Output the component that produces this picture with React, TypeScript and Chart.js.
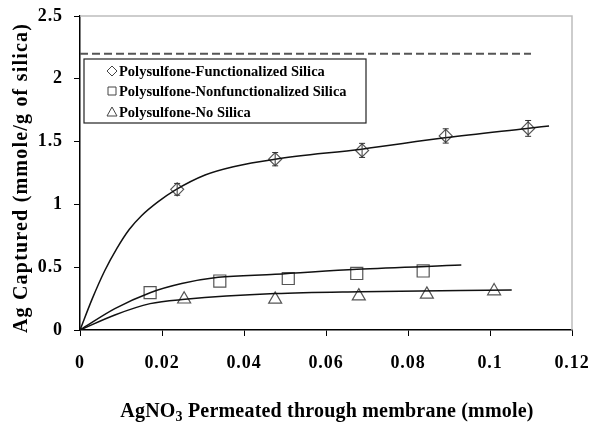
import { useEffect, useRef } from "react";
import { Chart, registerables } from "chart.js";
Chart.register(...registerables);

// ---- data ----
const xTickLabels = ["0", "0.02", "0.04", "0.06", "0.08", "0.1", "0.12"];
const yTickLabels = ["0", "0.5", "1", "1.5", "2", "2.5"];

const legendLabels = [
  "Polysulfone-Functionalized Silica",
  "Polysulfone-Nonfunctionalized Silica",
  "Polysulfone-No Silica",
];

// Functionalized silica (diamonds) with error bars
const funcX = [0.0237, 0.0476, 0.0688, 0.0892, 0.1093];
const funcY = [1.12, 1.36, 1.43, 1.545, 1.605];
const funcErr = [0.047, 0.053, 0.056, 0.057, 0.063];

// Nonfunctionalized silica (squares)
const nonfX = [0.0171, 0.0341, 0.0508, 0.0675, 0.0837];
const nonfY = [0.297, 0.39, 0.41, 0.45, 0.47];

// No silica (triangles)
const noSilX = [0.0254, 0.0476, 0.068, 0.0846, 0.101];
const noSilY = [0.245, 0.244, 0.27, 0.284, 0.31];

// fitted curves
const funcFitX = [0, 0.003, 0.006, 0.009, 0.012, 0.015, 0.019, 0.023, 0.0305, 0.0374, 0.0476, 0.0687, 0.089, 0.109, 0.1144];
const funcFitY = [0, 0.25, 0.47, 0.65, 0.8, 0.91, 1.02, 1.11, 1.234, 1.3, 1.36, 1.44, 1.53, 1.605, 1.625];

const nonfFitX = [0, 0.0085, 0.0171, 0.0248, 0.0337, 0.0476, 0.0675, 0.093];
const nonfFitY = [0, 0.17, 0.297, 0.37, 0.42, 0.443, 0.483, 0.517];

const noSilFitX = [0, 0.0085, 0.0171, 0.0256, 0.0476, 0.0683, 0.1053];
const noSilFitY = [0, 0.12, 0.21, 0.244, 0.29, 0.305, 0.318];

// theoretical capacity (dashed)
const capX = [0, 0.11];
const capY = [2.2, 2.2];

const FONT = "'Liberation Serif', 'Times New Roman', serif";

const pts = (xs: number[], ys: number[]) => xs.map((x, i) => ({ x, y: ys[i] }));

function drawMarker(ctx: CanvasRenderingContext2D, kind: string, x: number, y: number, r: number) {
  ctx.beginPath();
  if (kind === "diamond") {
    ctx.moveTo(x, y - r);
    ctx.lineTo(x + r, y);
    ctx.lineTo(x, y + r);
    ctx.lineTo(x - r, y);
    ctx.closePath();
  } else if (kind === "square") {
    ctx.rect(x - r * 0.8, y - r * 0.8, r * 1.6, r * 1.6);
  } else {
    ctx.moveTo(x, y - r);
    ctx.lineTo(x + r, y + r * 0.8);
    ctx.lineTo(x - r, y + r * 0.8);
    ctx.closePath();
  }
  ctx.fillStyle = "#fff";
  ctx.fill();
  ctx.stroke();
}

const spacingPlugin = {
  id: "spacing",
  beforeDraw(chart: any) {
    (chart.ctx as any).letterSpacing = "0.9px";
  },
};

const framePlugin = {
  id: "frame",
  beforeDatasetsDraw(chart: any) {
    const { ctx, chartArea: a } = chart;
    ctx.save();
    ctx.strokeStyle = "#bdbdbd";
    ctx.lineWidth = 1.5;
    ctx.beginPath();
    ctx.moveTo(a.left, a.top);
    ctx.lineTo(a.right, a.top);
    ctx.lineTo(a.right, a.bottom);
    ctx.stroke();
    ctx.restore();
  },
};

const errorBarPlugin = {
  id: "errorBars",
  afterDatasetsDraw(chart: any) {
    const { ctx } = chart;
    const xs = chart.scales.x;
    const ys = chart.scales.y;
    ctx.save();
    ctx.strokeStyle = "#333";
    ctx.lineWidth = 1;
    funcX.forEach((xv, i) => {
      const px = xs.getPixelForValue(xv);
      const top = ys.getPixelForValue(funcY[i] + funcErr[i]);
      const bot = ys.getPixelForValue(funcY[i] - funcErr[i]);
      ctx.beginPath();
      ctx.moveTo(px, top);
      ctx.lineTo(px, bot);
      ctx.moveTo(px - 3, top);
      ctx.lineTo(px + 3, top);
      ctx.moveTo(px - 3, bot);
      ctx.lineTo(px + 3, bot);
      ctx.stroke();
    });
    ctx.restore();
  },
};

const legendPlugin = {
  id: "boxLegend",
  afterDraw(chart: any) {
    const { ctx, chartArea: a } = chart;
    const left = a.left + 4;
    const top = a.top + 43;
    const w = 282;
    const h = 64;
    ctx.save();
    (ctx as any).letterSpacing = "0px";
    ctx.fillStyle = "#fff";
    ctx.fillRect(left, top, w, h);
    ctx.strokeStyle = "#222";
    ctx.lineWidth = 1.2;
    ctx.strokeRect(left, top, w, h);
    const kinds = ["diamond", "square", "triangle"];
    const rowY = [top + 12, top + 32, top + 53];
    ctx.font = `bold 14.5px ${FONT}`;
    ctx.textBaseline = "middle";
    ctx.textAlign = "left";
    kinds.forEach((k, i) => {
      ctx.strokeStyle = "#444";
      ctx.lineWidth = 1;
      drawMarker(ctx, k, left + 28, rowY[i], 5);
      ctx.fillStyle = "#000";
      ctx.fillText(legendLabels[i], left + 35, rowY[i] + 1);
    });
    ctx.restore();
  },
};

const titlesPlugin = {
  id: "axisTitles",
  afterDraw(chart: any) {
    const { ctx, chartArea: a } = chart;
    ctx.save();
    ctx.fillStyle = "#000";
    (ctx as any).letterSpacing = "1.2px";
    // y title
    ctx.font = `bold 20px ${FONT}`;
    ctx.textAlign = "center";
    ctx.textBaseline = "middle";
    ctx.translate(22, 178);
    ctx.rotate(-Math.PI / 2);
    ctx.fillText("Ag Captured (mmole/g of silica)", 0, 0);
    ctx.restore();

    // x title with subscript
    ctx.save();
    ctx.fillStyle = "#000";
    (ctx as any).letterSpacing = "0.2px";
    ctx.textBaseline = "alphabetic";
    ctx.textAlign = "left";
    const big = `bold 20px ${FONT}`;
    const small = `bold 14px ${FONT}`;
    const p1 = "AgNO";
    const p2 = "3";
    const p3 = " Permeated through membrane (mmole)";
    ctx.font = big;
    const w1 = ctx.measureText(p1).width;
    const w3 = ctx.measureText(p3).width;
    ctx.font = small;
    const w2 = ctx.measureText(p2).width;
    const total = w1 + w2 + w3;
    const cx = (a.left + a.right) / 2 + 1;
    let x = cx - total / 2;
    const base = 417;
    ctx.font = big;
    ctx.fillText(p1, x, base);
    x += w1;
    ctx.font = small;
    ctx.fillText(p2, x, base + 4);
    x += w2;
    ctx.font = big;
    ctx.fillText(p3, x, base);
    ctx.restore();
  },
};

export default function App() {
  const ref = useRef<HTMLCanvasElement | null>(null);
  useEffect(() => {
    if (!ref.current) return;
    const markerColor = "#555";
    const chart = new Chart(ref.current, {
      type: "scatter",
      data: {
        datasets: [
          {
            label: "cap",
            data: pts(capX, capY),
            showLine: true,
            borderColor: "#555",
            borderWidth: 2,
            borderDash: [8, 4],
            pointRadius: 0,
          },
          {
            label: "funcFit",
            data: pts(funcFitX, funcFitY),
            showLine: true,
            borderColor: "#111",
            borderWidth: 1.5,
            pointRadius: 0,
            cubicInterpolationMode: "monotone",
          },
          {
            label: "nonfFit",
            data: pts(nonfFitX, nonfFitY),
            showLine: true,
            borderColor: "#111",
            borderWidth: 1.5,
            pointRadius: 0,
            cubicInterpolationMode: "monotone",
          },
          {
            label: "noSilFit",
            data: pts(noSilFitX, noSilFitY),
            showLine: true,
            borderColor: "#111",
            borderWidth: 1.5,
            pointRadius: 0,
            cubicInterpolationMode: "monotone",
          },
          {
            label: legendLabels[0],
            data: pts(funcX, funcY),
            pointStyle: "rectRot",
            pointRadius: 6.5,
            borderColor: markerColor,
            backgroundColor: "rgba(255,255,255,0)",
            borderWidth: 1.2,
          },
          {
            label: legendLabels[1],
            data: pts(nonfX, nonfY),
            pointStyle: "rect",
            pointRadius: 8.5,
            borderColor: markerColor,
            backgroundColor: "rgba(255,255,255,0)",
            borderWidth: 1.2,
          },
          {
            label: legendLabels[2],
            data: pts(noSilX, noSilY),
            pointStyle: "triangle",
            pointRadius: 7.5,
            borderColor: markerColor,
            backgroundColor: "rgba(255,255,255,0)",
            borderWidth: 1.2,
          },
        ],
      },
      options: {
        animation: false,
        responsive: false,
        layout: { autoPadding: false, padding: { top: 16, right: 28, left: 0, bottom: 0 } },
        plugins: { legend: { display: false }, tooltip: { enabled: false } },
        scales: {
          x: {
            type: "linear",
            min: 0,
            max: 0.12,
            afterFit: (s: any) => {
              s.height = 93;
            },
            afterBuildTicks: (s: any) => {
              s.ticks = xTickLabels.map((t) => ({ value: parseFloat(t) }));
            },
            ticks: {
              callback: (_v: any, i: number) => xTickLabels[i],
              font: { family: FONT, size: 18, weight: "bold", lineHeight: 2 },
              color: "#000",
              padding: 9,
              maxRotation: 0,
            },
            grid: { drawOnChartArea: false, tickLength: 6, color: "#000", lineWidth: 1 },
            border: { color: "#000", width: 1.5 },
          },
          y: {
            type: "linear",
            min: 0,
            max: 2.5,
            afterFit: (s: any) => {
              s.width = 80;
            },
            afterBuildTicks: (s: any) => {
              s.ticks = yTickLabels.map((t) => ({ value: parseFloat(t) }));
            },
            ticks: {
              callback: (_v: any, i: number) => yTickLabels[i],
              font: { family: FONT, size: 18, weight: "bold", lineHeight: 0.5 },
              color: "#000",
              padding: 11,
            },
            grid: { drawOnChartArea: false, tickLength: 6, color: "#000", lineWidth: 1 },
            border: { color: "#000", width: 1.5 },
          },
        },
      },
      plugins: [spacingPlugin, framePlugin, errorBarPlugin, legendPlugin, titlesPlugin],
    } as any);
    return () => chart.destroy();
  }, []);
  return (
    <div style={{ position: "fixed", left: 0, top: 0, width: 600, height: 423, background: "#fff" }}>
      <canvas ref={ref} width={600} height={423} style={{ width: 600, height: 423 }} />
    </div>
  );
}
